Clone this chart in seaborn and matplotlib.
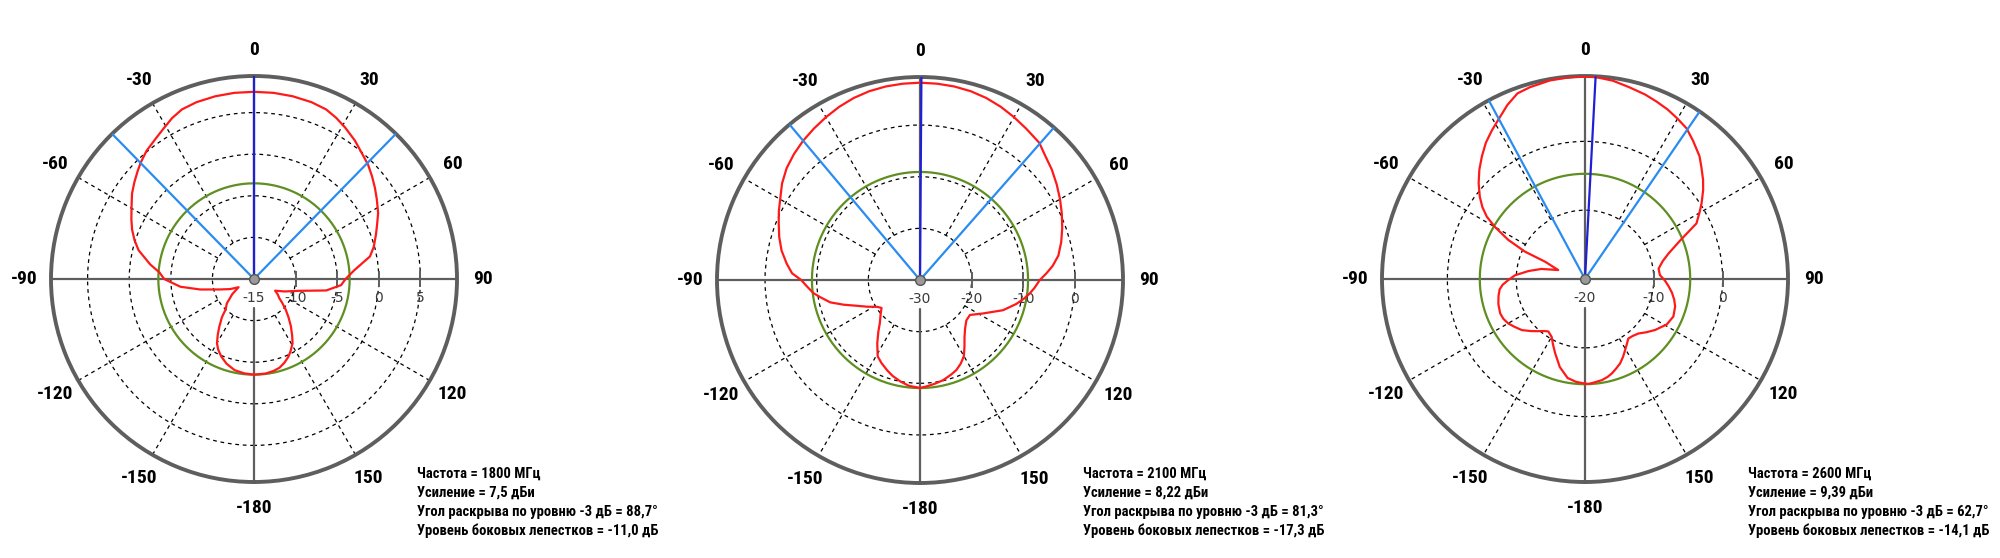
import numpy as np
import matplotlib
matplotlib.use('Agg')
import matplotlib.pyplot as plt
from matplotlib import font_manager
import seaborn as sns

# =====================================================================
# 1. Data
# =====================================================================
angles_1800 = [-180, -174, -168, -162, -157, -153, -150, -147, -144, -140,
               -137, -132, -125, -118, -113, -107, -101, -96, -90, -86,
               -82, -76, -72, -68, -64, -60, -55, -51, -47, -44,
               -40, -35, -31, -27, -23, -18, -12, -6, 0, 6,
               12, 18, 23, 27, 31, 36, 40, 45, 49, 53,
               57, 62, 66, 70, 75, 79, 85, 90, 94, 99,
               105, 112, 119, 123, 127, 130, 134, 138, 142, 146,
               149, 153, 156, 160, 164, 168, 173, 180]
gain_1800 = [-3.5, -3.6, -3.8, -4.3, -4.9, -5.5, -6.1, -7.0, -7.9, -9.0,
             -10.0, -10.6, -11.8, -12.9, -11.9, -10.7, -8.4, -6.1, -4.2, -3.6,
             -2.4, -0.7, 0.1, 0.8, 1.4, 2.0, 2.9, 3.5, 4.1, 4.55,
             5.1, 5.6, 6.1, 6.7, 7.15, 7.35, 7.45, 7.5, 7.5, 7.5,
             7.45, 7.35, 7.15, 6.75, 6.25, 5.6, 5.0, 4.4, 3.8, 3.2,
             2.6, 1.9, 1.2, 0.6, -0.1, -0.8, -2.9, -4.0, -4.5, -6.2,
             -9.5, -11.0, -12.1, -11.6, -11.2, -10.6, -9.7, -8.8, -7.8, -6.8,
             -6.0, -5.3, -4.8, -4.3, -3.9, -3.7, -3.55, -3.5]

angles_2100 = [-180, -174, -169, -164, -160, -155, -151, -146, -141, -137,
               -131, -126, -122, -117, -112, -108, -104, -100, -97, -93,
               -90, -87, -83, -78, -73, -68, -64, -59, -55, -50,
               -45, -40, -35, -30, -25, -20, -15, -10, -5, 0,
               5, 10, 15, 20, 25, 30, 35, 41, 45, 50,
               55, 60, 65, 70, 75, 80, 84, 87, 90, 94,
               97, 100, 104, 110, 118, 125, 131, 137, 142, 146,
               150, 154, 158, 162, 167, 172, 176, 180]
gain_2100 = [-9.1, -9.4, -10.0, -10.7, -11.4, -12.3, -13.1, -15.2, -17.2, -18.6,
             -19.9, -20.8, -20.2, -18.6, -16.7, -14.5, -12.1, -10.5, -9.2, -8.0,
             -7.0, -5.2, -4.0, -2.6, -1.5, -0.5, 0.4, 1.5, 2.6, 3.7,
             4.5, 5.2, 5.8, 6.4, 7.0, 7.5, 7.85, 8.05, 8.15, 8.2,
             8.15, 8.05, 7.85, 7.5, 7.0, 6.4, 5.8, 5.2, 4.2, 3.3,
             2.3, 1.3, 0.3, -0.7, -1.7, -2.8, -4.2, -5.5, -6.8, -7.8,
             -8.6, -9.5, -10.8, -12.9, -16.2, -18.2, -18.1, -17.2, -16.0, -14.6,
             -13.0, -12.0, -11.2, -10.7, -10.1, -9.7, -9.4, -9.1]

angles_2600 = [-180, -175, -170, -164, -158, -154, -150, -145, -142, -138,
               -134, -129, -124, -120, -116, -112, -106, -101, -97, -94,
               -91, -87, -82, -77, -71.5, -66.6, -65.5, -63, -60, -57.6,
               -55, -52, -48, -44, -40, -36, -32, -28, -24, -20,
               -16, -10, -6, -3, 0, 3, 8, 13, 18, 22,
               26, 30, 34, 38, 43, 46, 50, 53, 57, 60,
               63.5, 68, 73, 77, 82, 87, 91, 95, 99, 103,
               107, 113, 119, 126, 131, 135.5, 140, 144, 147, 150.5,
               154, 157.5, 161, 164, 167, 170.5, 175, 178, 180]
gain_2600 = [-4.8, -5.0, -5.4, -6.7, -8.4, -9.4, -10.3, -10.7, -10.4, -9.8,
             -9.1, -8.2, -7.6, -7.1, -6.8, -6.7, -6.9, -7.2, -7.5, -8.0,
             -8.8, -9.8, -11.7, -13.5, -15.9, -13.7, -10.4, -7.5, -4.9, -3.1,
             -1.8, -0.6, 0.8, 2.1, 3.3, 4.5, 5.5, 6.5, 7.7, 8.7,
             9.0, 9.3, 9.35, 9.4, 9.4, 9.39, 9.1, 8.6, 8.2, 7.8,
             7.4, 6.9, 6.4, 5.5, 4.4, 3.5, 2.4, 1.5, 0.2, -0.8,
             -1.9, -5.1, -7.3, -8.4, -9.2, -9.1, -8.4, -7.8, -7.2, -6.7,
             -6.3, -6.05, -6.4, -7.4, -8.2, -8.9, -9.2, -9.3, -8.8, -8.15,
             -7.4, -6.7, -6.2, -5.75, -5.4, -5.1, -4.9, -4.75, -4.8]

pattern_angles = [angles_1800, angles_2100, angles_2600]
pattern_gains = [gain_1800, gain_2100, gain_2600]

main_dir = [0.0, 0.4, 3.0]
beam_left = [-44.35, -40.0, -28.3]
beam_right = [44.35, 41.3, 34.4]
sidelobe_level = [-3.5, -9.08, -4.71]

r_min = [-15, -30, -20]
r_max = [9.4, 9.3, 9.5]
rings = [[-10, -5, 0, 5], [-20, -10, 0], [-10, 0]]

theta_ticks = [-180, -150, -120, -90, -60, -30, 0, 30, 60, 90, 120, 150]
spoke_angles = [-150, -120, -60, -30, 30, 60, 120, 150]

info_lines = [
    ['Частота = 1800 МГц', 'Усиление = 7,5 дБи',
     'Угол раскрыва по уровню -3 дБ = 88,7°', 'Уровень боковых лепестков = -11,0 дБ'],
    ['Частота = 2100 МГц', 'Усиление = 8,22 дБи',
     'Угол раскрыва по уровню -3 дБ = 81,3°', 'Уровень боковых лепестков = -17,3 дБ'],
    ['Частота = 2600 МГц', 'Усиление = 9,39 дБи',
     'Угол раскрыва по уровню -3 дБ = 62,7°', 'Уровень боковых лепестков = -14,1 дБ'],
]

# =====================================================================
# 2. Style
# =====================================================================
sns.set_theme(style='white')
plt.rcParams['font.family'] = ['DejaVu Sans']

available = {f.name for f in font_manager.fontManager.ttflist}
narrow_name = None
for cand in ['Liberation Sans Narrow', 'Roboto Condensed', 'Open Sans Condensed', 'Arial Narrow']:
    if cand in available:
        narrow_name = cand
        break
if narrow_name:
    narrow = [narrow_name, 'DejaVu Sans']
    ang_size, info_size = 14, 10.5
else:
    narrow = ['Liberation Sans', 'DejaVu Sans']
    ang_size, info_size = 12.5, 8.7

RED = '#ff1a1a'
GREEN = '#5f8f22'
LIGHT_BLUE = '#2a8cf0'
DARK_BLUE = '#1f1fd6'
GRAY = '#5e5e5e'

W, H = 2000, 558
centers = [(254, 279), (920, 280), (1585, 279)]
RADIUS = 203

fig = plt.figure(figsize=(W / 100, H / 100), dpi=100)

# =====================================================================
# 3. Polar diagrams
# =====================================================================
for i, (cx, cy) in enumerate(centers):
    ax = fig.add_axes([(cx - RADIUS) / W, (H - cy - RADIUS) / H, 2 * RADIUS / W, 2 * RADIUS / H],
                      projection='polar')
    ax.set_theta_zero_location('N')
    ax.set_theta_direction(-1)
    lo, hi = r_min[i], r_max[i]

    # dashed rings
    ax.set_yticks(rings[i])
    ax.set_yticklabels([])
    ax.yaxis.grid(True, linestyle=(0, (3, 3)), color='black', linewidth=0.9)
    ax.xaxis.grid(False)

    # dashed spokes (start at the first ring)
    for a in spoke_angles:
        ax.plot([np.deg2rad(a)] * 2, [rings[i][0], hi], color='black',
                linestyle=(0, (3, 3)), linewidth=0.9, zorder=1)

    # solid axes cross
    cut = lo + 0.143 * (hi - lo)
    ax.plot([np.pi / 2] * 2, [lo, hi], color=GRAY, linewidth=1.6, zorder=2)
    ax.plot([-np.pi / 2] * 2, [lo, hi], color=GRAY, linewidth=1.6, zorder=2)
    ax.plot([0, 0], [lo, hi], color=GRAY, linewidth=1.6, zorder=2)
    ax.plot([np.pi] * 2, [cut, hi], color=GRAY, linewidth=1.6, zorder=2)

    # radial tick marks on the right half-axis
    ax.plot([np.pi / 2] * len(rings[i]), rings[i], linestyle='none', marker='|',
            markersize=11, markeredgewidth=1.4, color=GRAY, zorder=2)

    # side-lobe level circle
    circ = np.linspace(-np.pi, np.pi, 361)
    ax.plot(circ, [sidelobe_level[i]] * len(circ), color=GREEN, linewidth=1.6, zorder=3)

    # radiation pattern
    sns.lineplot(x=np.deg2rad(pattern_angles[i]), y=pattern_gains[i], ax=ax, sort=False,
                 estimator=None, color=RED, linewidth=1.6, zorder=4)

    # -3 dB beam edges and main direction
    for a in (beam_left[i], beam_right[i]):
        ax.plot([np.deg2rad(a)] * 2, [lo, hi], color=LIGHT_BLUE, linewidth=1.6, zorder=5)
    ax.plot([np.deg2rad(main_dir[i])] * 2, [lo, hi], color=DARK_BLUE, linewidth=1.6, zorder=6)

    # centre marker
    ax.plot([0], [lo], marker='o', markersize=7, markerfacecolor='#9a9a9a',
            markeredgecolor='#555555', markeredgewidth=1, zorder=7, clip_on=False)

    ax.set_xlim(-np.pi, np.pi)
    ax.set_ylim(lo, hi)
    ax.set_xlabel('')
    ax.set_ylabel('')

    # angle labels
    ax.set_xticks(np.deg2rad(theta_ticks))
    ax.set_xticklabels([str(t) for t in theta_ticks])
    ax.tick_params(axis='x', length=0, pad=12)
    for lab in ax.get_xticklabels():
        lab.set_family(narrow)
        lab.set_fontweight('bold')
        lab.set_fontsize(ang_size)
        lab.set_color('black')

    # level labels under the horizontal axis
    ax.annotate(str(lo), xy=(0, lo), xytext=(0, -19), textcoords='offset pixels',
                ha='center', va='center', fontsize=10, color='#3a3a3a', annotation_clip=False)
    for r in rings[i]:
        ax.annotate(str(r), xy=(np.pi / 2, r), xytext=(0, -19), textcoords='offset pixels',
                    ha='center', va='center', fontsize=10, color='#3a3a3a', annotation_clip=False)

    ax.spines['polar'].set_color(GRAY)
    ax.spines['polar'].set_linewidth(2.8)
    ax.set_facecolor('white')

    # info block
    for j, line in enumerate(info_lines[i]):
        fig.text((cx + 163) / W, 1 - (474 + 19 * j) / H, line, ha='left', va='center',
                 family=narrow, fontweight='bold', fontsize=info_size, color='black')

fig.savefig('out.png', dpi=100, facecolor='white')
